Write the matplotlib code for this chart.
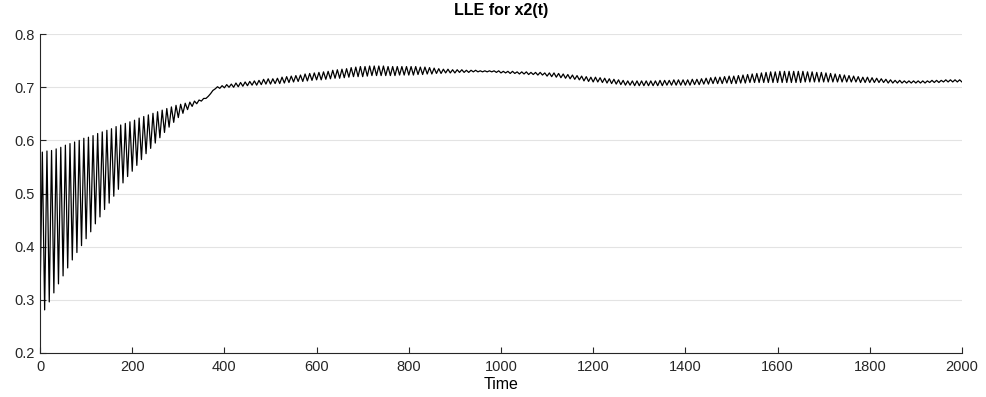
import numpy as np
import matplotlib
matplotlib.use('Agg')
import matplotlib.pyplot as plt

# lle for x2(t): one trough then one peak per cycle of ~10 time units
period = 10.0
troughs = [
    0.300, 0.281, 0.296, 0.313, 0.330, 0.345, 0.360, 0.375, 0.389, 0.402,
    0.415, 0.428, 0.443, 0.456, 0.470, 0.482, 0.495, 0.508, 0.520, 0.532,
    0.542, 0.553, 0.564, 0.575, 0.585, 0.595, 0.605, 0.615, 0.625, 0.634,
    0.643, 0.651, 0.658, 0.664, 0.669, 0.674, 0.679, 0.688, 0.697, 0.698,
    0.699, 0.700, 0.700, 0.701, 0.702, 0.703, 0.704, 0.704, 0.705, 0.706,
    0.706, 0.707, 0.707, 0.708, 0.709, 0.710, 0.711, 0.711, 0.712, 0.713,
    0.714, 0.714, 0.715, 0.716, 0.717, 0.717, 0.718, 0.719, 0.720, 0.720,
    0.720, 0.721, 0.722, 0.722, 0.722, 0.722, 0.722, 0.722, 0.723, 0.723,
    0.723, 0.723, 0.724, 0.724, 0.725, 0.725, 0.726, 0.726, 0.727, 0.727,
    0.727, 0.728, 0.728, 0.728, 0.729, 0.729, 0.729, 0.729, 0.729, 0.728,
    0.727, 0.727, 0.726, 0.726, 0.725, 0.725, 0.724, 0.724, 0.723, 0.723,
    0.721, 0.720, 0.719, 0.718, 0.717, 0.716, 0.715, 0.714, 0.712, 0.711,
    0.710, 0.710, 0.709, 0.708, 0.707, 0.706, 0.705, 0.704, 0.704, 0.703,
    0.703, 0.703, 0.703, 0.703, 0.703, 0.703, 0.704, 0.704, 0.704, 0.704,
    0.704, 0.704, 0.705, 0.705, 0.706, 0.706, 0.707, 0.707, 0.707, 0.708,
    0.707, 0.707, 0.708, 0.708, 0.709, 0.709, 0.709, 0.709, 0.709, 0.709,
    0.709, 0.709, 0.709, 0.709, 0.709, 0.709, 0.710, 0.710, 0.710, 0.710,
    0.710, 0.710, 0.710, 0.710, 0.710, 0.710, 0.710, 0.710, 0.709, 0.709,
    0.709, 0.709, 0.709, 0.709, 0.708, 0.708, 0.708, 0.708, 0.708, 0.708,
    0.708, 0.708, 0.708, 0.709, 0.709, 0.709, 0.710, 0.710, 0.710, 0.710,
    0.710,
]
peaks = [
    0.578, 0.580, 0.581, 0.584, 0.587, 0.591, 0.594, 0.597, 0.600, 0.604,
    0.606, 0.609, 0.613, 0.616, 0.619, 0.622, 0.626, 0.629, 0.632, 0.635,
    0.638, 0.642, 0.645, 0.648, 0.651, 0.654, 0.657, 0.660, 0.663, 0.666,
    0.668, 0.670, 0.672, 0.674, 0.676, 0.679, 0.683, 0.694, 0.701, 0.703,
    0.705, 0.706, 0.708, 0.709, 0.710, 0.711, 0.712, 0.713, 0.715, 0.716,
    0.716, 0.717, 0.719, 0.720, 0.721, 0.722, 0.723, 0.725, 0.726, 0.727,
    0.728, 0.729, 0.730, 0.732, 0.733, 0.734, 0.735, 0.737, 0.738, 0.739,
    0.739, 0.740, 0.740, 0.740, 0.740, 0.739, 0.739, 0.739, 0.739, 0.739,
    0.739, 0.739, 0.738, 0.738, 0.737, 0.736, 0.735, 0.734, 0.734, 0.733,
    0.733, 0.733, 0.732, 0.732, 0.732, 0.731, 0.731, 0.731, 0.731, 0.731,
    0.730, 0.730, 0.730, 0.729, 0.729, 0.729, 0.728, 0.728, 0.728, 0.727,
    0.727, 0.727, 0.726, 0.725, 0.724, 0.723, 0.722, 0.721, 0.720, 0.719,
    0.719, 0.718, 0.717, 0.716, 0.715, 0.714, 0.713, 0.712, 0.712, 0.712,
    0.712, 0.712, 0.712, 0.712, 0.713, 0.713, 0.713, 0.714, 0.714, 0.714,
    0.714, 0.715, 0.715, 0.716, 0.717, 0.718, 0.719, 0.719, 0.720, 0.721,
    0.721, 0.722, 0.723, 0.724, 0.725, 0.726, 0.727, 0.728, 0.729, 0.729,
    0.730, 0.730, 0.730, 0.730, 0.730, 0.730, 0.729, 0.729, 0.728, 0.728,
    0.727, 0.726, 0.725, 0.724, 0.723, 0.722, 0.721, 0.720, 0.719, 0.719,
    0.718, 0.717, 0.716, 0.715, 0.714, 0.713, 0.713, 0.712, 0.712, 0.712,
    0.712, 0.712, 0.712, 0.713, 0.713, 0.713, 0.714, 0.714, 0.714, 0.714,
]

xticks = [0, 200, 400, 600, 800, 1000, 1200, 1400, 1600, 1800, 2000]
yticks = [0.2, 0.3, 0.4, 0.5, 0.6, 0.7, 0.8]

# interleave troughs and peaks
vals = np.empty(len(troughs) + len(peaks))
vals[0::2] = troughs
vals[1::2] = peaks
t = np.arange(len(vals)) * period / 2

plt.rcParams['font.family'] = ['Liberation Sans', 'DejaVu Sans']

fig = plt.figure(figsize=(9.86, 3.97), dpi=100)
ax = fig.add_axes([0.0406, 0.111, 0.935, 0.803])

ax.plot(t, vals, color='k', lw=0.9)

ax.set_xlim(0, 2000)
ax.set_ylim(0.2, 0.8)
ax.set_xticks(xticks)
ax.set_yticks(yticks)
ax.set_yticklabels([f'{v:.1f}' for v in yticks])
ax.yaxis.grid(True, color='#e3e3e3', lw=0.8)
ax.set_axisbelow(True)
for s in ['top', 'right']:
    ax.spines[s].set_visible(False)
for s in ['left', 'bottom']:
    ax.spines[s].set_color('#262626')
    ax.spines[s].set_linewidth(0.8)
ax.tick_params(direction='in', length=4, width=0.8, colors='#262626',
               labelsize=10.5, labelcolor='#262626')
ax.tick_params(axis='x', pad=5)

ax.set_title('LLE for x2(t)', fontsize=11.5, fontweight='bold', pad=14)
ax.set_xlabel('Time', fontsize=11.5, labelpad=2)

plt.savefig('out.png', dpi=100)
